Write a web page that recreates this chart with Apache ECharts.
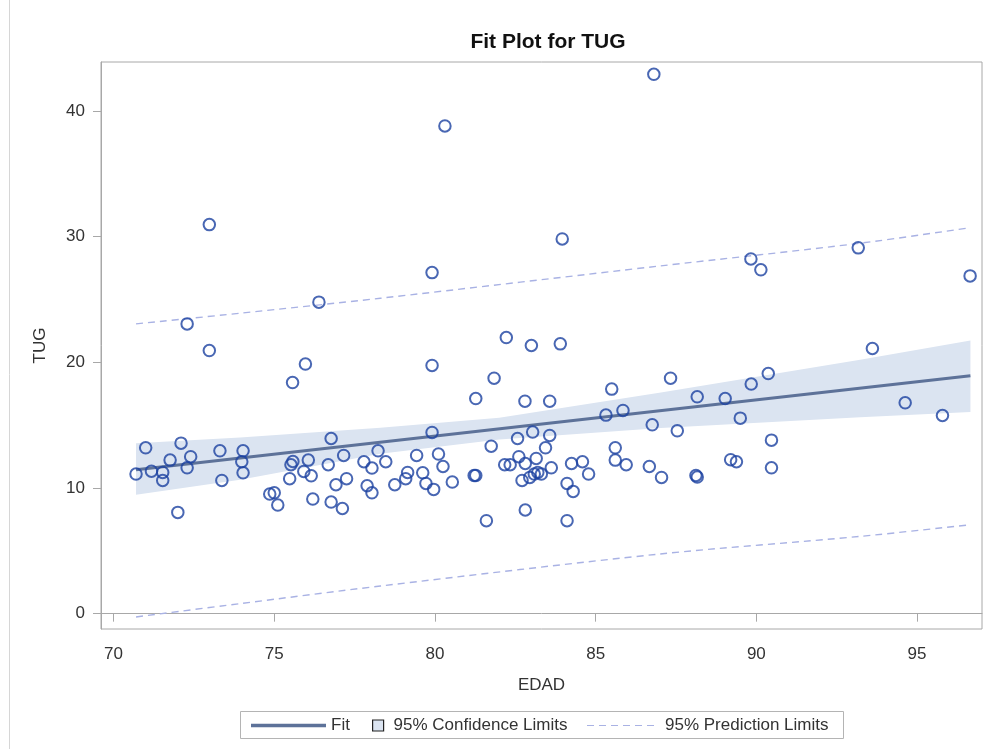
<!DOCTYPE html>
<html>
<head>
<meta charset="utf-8">
<title>Fit Plot for TUG</title>
<script src="https://cdn.jsdelivr.net/npm/echarts@6/dist/echarts.min.js"></script>
<style>
  html, body { margin: 0; padding: 0; background: #ffffff; }
  #chart { width: 987px; height: 749px; }
</style>
</head>
<body>
<div id="chart"></div>
<script>
// Observations: age (EDAD) and Timed Up and Go score (TUG)
const edad = [
  72.98, 72.29, 76.39, 72.98, 75.97, 75.57, 71.00, 72.10, 70.70, 71.18,
  71.53, 71.53, 71.76, 72.40, 72.29, 72.00, 73.31, 73.37, 74.03, 73.99,
  74.03, 74.86, 75.00, 75.11, 75.48, 75.52, 75.58, 75.92, 76.06, 76.15,
  76.20, 76.77, 76.68, 77.16, 76.92, 77.25, 76.77, 77.12, 77.79, 78.04,
  78.23, 78.47, 77.89, 78.04, 78.75, 82.22, 83.00, 83.90, 79.91, 81.84,
  81.27, 82.80, 83.57, 85.50, 87.33, 85.32, 85.85, 86.76, 87.54, 79.91,
  83.04, 83.57, 82.57, 81.75, 83.44, 85.61, 79.43, 80.11, 80.25, 79.15,
  79.09, 79.62, 79.72, 79.96, 80.54, 81.22, 81.27, 82.17, 82.34, 82.61,
  83.15, 82.81, 83.62, 82.71, 82.95, 83.09, 83.20, 83.31, 84.25, 84.59,
  84.78, 84.11, 84.30, 85.61, 85.95, 86.67, 87.05, 82.81, 81.60, 84.11,
  88.16, 89.03, 89.84, 90.37, 93.61, 89.50, 94.63, 95.79, 90.47, 89.20,
  89.38, 90.47, 88.12, 88.16, 86.81, 80.31, 83.96, 79.91, 89.83, 90.14,
  93.17, 96.65
];
const tug = [
  30.96, 23.06, 24.79, 20.94, 19.86, 18.39, 13.20, 13.57, 11.11, 11.34,
  11.24, 10.60, 12.22, 12.49, 11.61,  8.06, 12.96, 10.60, 12.96, 12.09,
  11.21,  9.52,  9.62,  8.64, 10.74, 11.85, 12.11, 11.32, 12.22, 10.97,
   9.12, 13.94, 11.85, 12.59, 10.26, 10.74,  8.88,  8.37, 12.09, 11.59,
  12.96, 12.09, 10.18,  9.62, 10.26, 21.97, 21.34, 21.47, 19.75, 18.74,
  17.12, 16.91, 16.91, 17.87, 18.74, 15.80, 16.17, 15.03, 14.55, 14.42,
  14.45, 14.18, 13.94, 13.33, 13.20, 13.20, 12.59, 12.70, 11.71, 11.24,
  10.74, 11.21, 10.36,  9.89, 10.47, 11.00, 11.00, 11.85, 11.85, 12.49,
  12.35, 11.95, 11.61, 10.60, 10.84, 11.11, 11.24, 11.11, 11.95, 12.09,
  11.11, 10.36,  9.73, 12.22, 11.85, 11.71, 10.84,  8.25,  7.40,  7.40,
  17.26, 17.12, 18.27, 19.11, 21.10, 15.56, 16.78, 15.77, 13.81, 12.25,
  12.09, 11.61, 11.00, 10.87, 42.92, 38.81, 29.82, 27.14, 28.23, 27.36,
  29.11, 26.88
];

// Fitted regression line (end points)
const fitX = [70.70, 96.66];
const fitY = [11.45, 18.93];

// 95% confidence band for the mean
const ciX     = [70.70, 73.94, 78.30, 82.00, 87.03, 93.23, 96.66];
const ciUpper = [13.57, 14.02, 14.80, 15.60, 17.60, 20.20, 21.73];
const ciLower = [ 9.46, 10.66, 12.72, 13.85, 14.77, 15.64, 16.04];

// 95% prediction limits
const piX     = [70.70, 73.94, 78.30, 87.00, 93.23, 96.66];
const piUpper = [23.06, 23.91, 25.10, 27.67, 29.48, 30.72];
const piLower = [-0.26,  0.80,  2.20,  4.75,  6.15,  7.08];

// Axis ticks
const xTicks = [70, 75, 80, 85, 90, 95];
const yTicks = [0, 10, 20, 30, 40];

const FONT = 'Liberation Sans, Arial, Helvetica, sans-serif';
const TEXT = '#333333';
const FRAME = '#a8a8a8';
const MARKER = '#1b41a0';
const FIT = '#5d7299';
const BAND = '#dbe4f1';
const PRED = '#a9b2e4';

// Legend glyph: a row of short dashes for the prediction limits
const DASH_ICON = 'path://M0 0h7v1H0z M12 0h7v1h-7z M24 0h7v1h-7z M36 0h7v1h-7z M48 0h7v1h-7z M60 0h7v1h-7z';

const chart = echarts.init(document.getElementById('chart'), null, { renderer: 'canvas' });

const zip = (xs, ys) => xs.map((x, i) => [x, ys[i]]);

const legendText = { fontFamily: FONT, fontSize: 17, color: TEXT };

const option = {
  animation: false,
  backgroundColor: '#ffffff',
  title: {
    text: 'Fit Plot for TUG',
    left: 543, top: 27, textAlign: 'center',
    textStyle: { fontFamily: FONT, fontSize: 21, fontWeight: 'bold', color: '#111' }
  },
  grid: {
    left: 101, right: 5, top: 62, bottom: 120,
    show: true, borderColor: FRAME, borderWidth: 1, backgroundColor: 'transparent'
  },
  xAxis: {
    type: 'value', min: 69.61, max: 97.02,
    name: 'EDAD', nameLocation: 'middle', nameGap: 48,
    nameTextStyle: { fontFamily: FONT, fontSize: 17, color: TEXT },
    axisLine: { show: true, lineStyle: { color: FRAME, width: 1 } },
    axisTick: { show: true, length: 8, lineStyle: { color: FRAME }, customValues: xTicks },
    axisLabel: { fontFamily: FONT, fontSize: 17, color: TEXT, margin: 17, customValues: xTicks },
    splitLine: { show: false }
  },
  yAxis: {
    type: 'value', min: -1.22, max: 43.9,
    name: 'TUG', nameLocation: 'middle', nameGap: 52, nameRotate: 90,
    nameTextStyle: { fontFamily: FONT, fontSize: 17, color: TEXT },
    axisLine: { show: true, lineStyle: { color: FRAME, width: 1 } },
    axisTick: { show: true, length: 8, lineStyle: { color: FRAME }, customValues: yTicks },
    axisLabel: { fontFamily: FONT, fontSize: 17, color: TEXT, margin: 16, customValues: yTicks },
    splitLine: { show: false }
  },
  legend: [
    {
      data: [{ name: 'Fit', icon: 'rect',
               itemStyle: { color: FIT, borderWidth: 0 } }],
      left: 251, top: 717, padding: 0, itemWidth: 75, itemHeight: 3.4,
      selectedMode: false,
      textStyle: legendText
    },
    {
      data: [{ name: '95% Confidence Limits', icon: 'rect',
               itemStyle: { color: BAND, borderColor: '#222', borderWidth: 1.2 } }],
      left: 372, top: 717, padding: 0, itemWidth: 11, itemHeight: 11,
      selectedMode: false,
      textStyle: Object.assign({ padding: [0, 0, 0, 5] }, legendText)
    },
    {
      data: [{ name: '95% Prediction Limits', icon: DASH_ICON,
               itemStyle: { color: PRED, borderWidth: 0 } }],
      left: 587, top: 717, padding: 0, itemWidth: 67, itemHeight: 1.3,
      selectedMode: false,
      textStyle: Object.assign({ padding: [0, 0, 0, 6] }, legendText)
    }
  ],
  graphic: [
    {
      type: 'rect', left: 240, top: 711, z: -1,
      shape: { width: 603, height: 27 },
      style: { fill: '#ffffff', stroke: '#b4b4b4', lineWidth: 1 }
    },
    {
      type: 'line', z: -1,
      shape: { x1: 9.5, y1: 0, x2: 9.5, y2: 749 },
      style: { stroke: '#d6d6d6', lineWidth: 1 }
    }
  ],
  series: [
    {
      type: 'custom', name: '95% Confidence Limits',
      data: zip(ciX, ciUpper),
      itemStyle: { color: BAND },
      silent: true, z: 1,
      renderItem: function (params, api) {
        if (params.dataIndex !== 0) return null;
        const pts = [];
        for (let i = 0; i < ciX.length; i++) pts.push(api.coord([ciX[i], ciUpper[i]]));
        for (let i = ciX.length - 1; i >= 0; i--) pts.push(api.coord([ciX[i], ciLower[i]]));
        return { type: 'polygon', shape: { points: pts }, style: { fill: BAND } };
      }
    },
    {
      type: 'line', name: '95% Prediction Limits',
      data: zip(piX, piUpper), smooth: 0.3,
      symbol: 'none', silent: true, z: 2,
      itemStyle: { color: PRED },
      lineStyle: { color: PRED, width: 1.4, type: [7, 5] }
    },
    {
      type: 'line', name: '95% Prediction Limits',
      data: zip(piX, piLower), smooth: 0.3,
      symbol: 'none', silent: true, z: 2,
      itemStyle: { color: PRED },
      lineStyle: { color: PRED, width: 1.4, type: [7, 5] }
    },
    {
      type: 'line', name: 'Fit',
      data: zip(fitX, fitY),
      symbol: 'none', silent: true, z: 3,
      itemStyle: { color: FIT },
      lineStyle: { color: FIT, width: 3 }
    },
    {
      type: 'scatter', name: 'TUG',
      data: zip(edad, tug),
      symbol: 'circle', symbolSize: 11.5, z: 4,
      itemStyle: { color: 'rgba(255,255,255,0)', borderColor: MARKER, borderWidth: 2 }
    }
  ]
};

chart.setOption(option);
</script>
</body>
</html>
